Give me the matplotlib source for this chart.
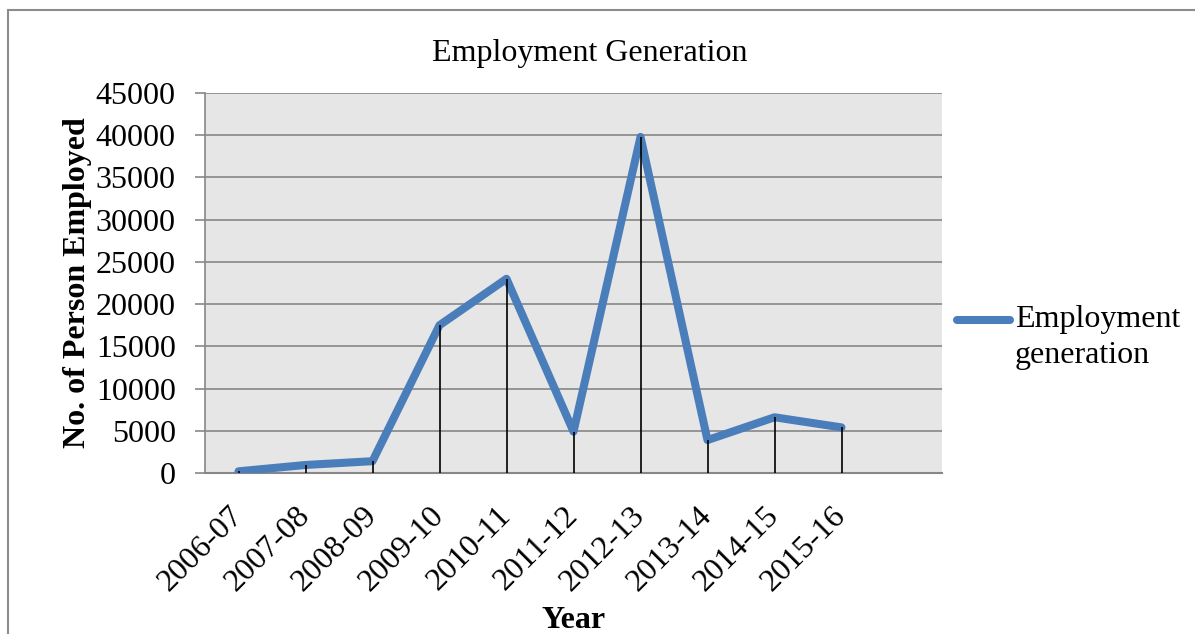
import matplotlib.pyplot as plt
from matplotlib.patches import Rectangle
from matplotlib.lines import Line2D
from matplotlib.transforms import ScaledTranslation

plt.rcParams['font.family'] = ['Liberation Serif', 'DejaVu Serif']

years = ['2006-07', '2007-08', '2008-09', '2009-10', '2010-11',
         '2011-12', '2012-13', '2013-14', '2014-15', '2015-16']
persons = [200, 950, 1400, 17500, 23000, 4900, 39800, 3900, 6600, 5400]
yticks = [0, 5000, 10000, 15000, 20000, 25000, 30000, 35000, 40000, 45000]

blue = '#4a7ebb'
grey = '#878787'

W, H = 1195, 634
fig = plt.figure(figsize=(W / 100, H / 100), dpi=100)
ax = fig.add_axes([205 / W, 1 - 473 / H, 737 / W, 380 / H])
ax.set_facecolor('#e6e6e6')

x = list(range(len(years)))
ax.plot(x, persons, color=blue, lw=5.8, solid_capstyle='round',
        solid_joinstyle='round', zorder=3)
ax.vlines(x, 0, persons, color='black', lw=1.2, zorder=4)

ax.set_xlim(-0.5, 10.5)
ax.set_ylim(0, 45000)
ax.set_yticks(yticks)
ax.set_yticklabels([str(v) for v in yticks])
ax.set_xticks(x)
ax.set_xticklabels([])

# slanted year labels, ending just below-left of each category
shift = ScaledTranslation(-0.10, -0.28, fig.dpi_scale_trans)
for i, yr in enumerate(years):
    ax.text(i, 0, yr, transform=ax.get_xaxis_transform() + shift,
            rotation=45, ha='right', va='top', rotation_mode='anchor',
            fontsize=23)

ax.grid(axis='y', color=grey, lw=1.2)
ax.set_axisbelow(True)
for s in ['top', 'right']:
    ax.spines[s].set_visible(False)
ax.spines['left'].set_color(grey)
ax.spines['left'].set_linewidth(1.2)
ax.spines['bottom'].set_color(grey)
ax.spines['bottom'].set_linewidth(1.5)
ax.tick_params(axis='y', colors=grey, length=7, width=1.2, pad=14,
               labelsize=23, labelcolor='black')
ax.tick_params(axis='x', length=0)

ax.set_xlabel('Year', fontsize=23, fontweight='bold')
ax.xaxis.set_label_coords(0.5, -0.35)
ax.set_ylabel('No. of Person Employed', fontsize=23, fontweight='bold',
              labelpad=3)

fig.text(590 / W, 1 - 53 / H, 'Employment Generation', fontsize=23,
         ha='center', va='center')

# legend entry: line sits beside the first row of the label
fig.add_artist(Line2D([957 / W, 1010 / W], [1 - 320 / H, 1 - 320 / H],
                      transform=fig.transFigure, color=blue, lw=5.8,
                      solid_capstyle='round'))
fig.text(1015 / W, 1 - 320 / H, 'Employment', fontsize=23,
         ha='left', va='center')
fig.text(1015 / W, 1 - 355 / H, 'generation', fontsize=23,
         ha='left', va='center')

# frame around the chart, running off the right and bottom
fig.patches.append(Rectangle((8 / W, -0.1), 1.2, 1.1 - 10 / H,
                             transform=fig.transFigure, fill=False,
                             edgecolor='#8c8c8c', lw=1.5))
fig.text(0.007, 1 + 7 / H, 'Figure 4.10: Employment Generation', fontsize=23,
         fontweight='bold', va='baseline', ha='left')

fig.savefig('out.png', dpi=100)
